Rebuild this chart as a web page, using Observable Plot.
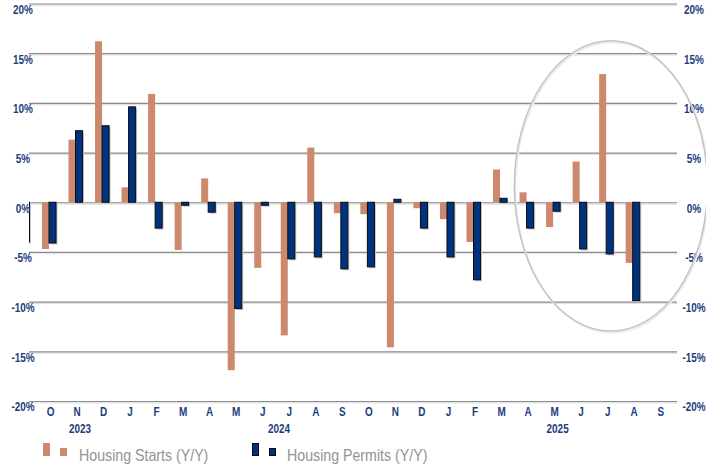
<!DOCTYPE html>
<html>
<head>
<meta charset="utf-8">
<script src="https://cdn.jsdelivr.net/npm/d3@7"></script>
<script src="https://cdn.jsdelivr.net/npm/@observablehq/plot@0.6"></script>
<style>
  html, body { margin: 0; padding: 0; background: #fff; }
  #wrap { width: 706px; }
  .lg { position: relative; width: 706px; height: 27px; font-family: "Liberation Sans", Arial, sans-serif; }
  .sw { position: absolute; box-sizing: border-box; }
  .lt { position: absolute; top: 5px; font-size: 16.5px; line-height: 20px; color: #939393; white-space: nowrap; transform: scaleX(0.86); transform-origin: 0 50%; }
</style>
</head>
<body>
<div id="wrap"></div>
<script>
// Month index: -1 = Sep 2023 ... 23 = Sep 2025
const monthIndex = d3.range(-1, 24);
const monthLetters = ["S","O","N","D","J","F","M","A","M","J","J","A","S","O","N","D","J","F","M","A","M","J","J","A","S"];
const monthYears = [2023,2023,2023,2023,2024,2024,2024,2024,2024,2024,2024,2024,2024,2024,2024,2024,2025,2025,2025,2025,2025,2025,2025,2025,2025];
// Housing Starts Y/Y (%)
const starts = [null,-4.7,6.3,16.2,1.5,10.9,-4.8,2.4,-16.9,-6.6,-13.4,5.5,-1.1,-1.2,-14.6,-0.6,-1.7,-4.0,3.3,1.0,-2.5,4.1,12.9,-6.1,null];
// Housing Permits Y/Y (%)
const permits = [-4.0,-4.1,7.2,7.7,9.6,-2.6,-0.3,-1.0,-10.7,-0.3,-5.7,-5.5,-6.7,-6.5,0.3,-2.6,-5.5,-7.8,0.4,-2.6,-0.9,-4.7,-5.2,-9.9,null];
const yTicks = [-20,-15,-10,-5,0,5,10,15,20];
const yearLabels = [2023, 2024, 2025];
// highlight ellipse (data units: month index, percent)
const highlight = {cx: 21.18, cy: 1.64, rx: 3.64, ry: 14.6};

const rows = monthIndex.map((i, k) => ({i, m: monthLetters[k], yr: monthYears[k], starts: starts[k], permits: permits[k]}));
const visible = rows.filter(r => r.i >= 0);
const years = yearLabels.map(y => ({y, i: d3.mean(visible.filter(r => r.yr === y), r => r.i)}));

const half = 0.265;
const textColor = "#1e3d7d";
const font = '"Liberation Sans", Arial, sans-serif';

const chart = Plot.plot({
  width: 706,
  height: 440,
  marginTop: 3.5,
  marginBottom: 39,
  marginLeft: 29,
  marginRight: 29,
  style: {fontFamily: font, background: "#fff"},
  x: {type: "linear", domain: [-1.5, 23.5], range: [9.2, 672.5], axis: null},
  y: {domain: [-20, 20], axis: null},
  marks: [
    Plot.ruleY(yTicks, {stroke: "#e2e2e2", strokeWidth: 1.2, dy: 1.3}),
    Plot.ruleY(yTicks, {stroke: "#8a8a8a", strokeWidth: 1.2}),
    Plot.rect(rows.filter(r => r.starts != null), {
      x1: r => r.i - half, x2: r => r.i, y1: 0, y2: "starts",
      fill: "#cd896d", clip: true
    }),
    Plot.rect(rows.filter(r => r.permits != null), {
      x1: r => r.i, x2: r => r.i + half, y1: 0, y2: "permits",
      fill: "#c8c8c8", dx: 1.5, dy: 1.5, clip: true
    }),
    Plot.rect(rows.filter(r => r.permits != null), {
      x1: r => r.i, x2: r => r.i + half, y1: 0, y2: "permits",
      fill: "#00337f", stroke: "#0b0b0b", strokeWidth: 1, clip: true
    }),
    Plot.text(yTicks, {
      y: d => d, text: d => `${d}%`, frameAnchor: "left", dx: -6.5, dy: 6,
      textAnchor: "middle", fill: textColor, fontWeight: "bold", fontSize: 12
    }),
    Plot.text(yTicks, {
      y: d => d, text: d => `${d}%`, frameAnchor: "right", dx: 16.5, dy: 6,
      textAnchor: "middle", fill: textColor, fontWeight: "bold", fontSize: 12
    }),
    Plot.text(visible, {
      x: "i", text: "m", frameAnchor: "bottom", dy: 14, dx: 1,
      fill: textColor, fontWeight: "bold", fontSize: 12
    }),
    Plot.text(years, {
      x: "i", text: d => String(d.y), frameAnchor: "bottom", dy: 31.5, dx: 4,
      fill: textColor, fontWeight: "bold", fontSize: 12
    })
  ]
});

// condense the bold labels horizontally (narrow face of the original)
d3.select(chart).selectAll("text").each(function() {
  const t = this.getAttribute("transform");
  if (t) this.setAttribute("transform", t + " scale(0.83,1)");
  else {
    const x = +this.getAttribute("x") || 0, y = +this.getAttribute("y") || 0;
    this.removeAttribute("x"); this.removeAttribute("y");
    this.setAttribute("transform", `translate(${x},${y}) scale(0.83,1)`);
  }
});

// highlight ellipse drawn through the scales
const xs = chart.scale("x"), ys = chart.scale("y");
const ecx = xs.apply(highlight.cx), ecy = ys.apply(highlight.cy);
const erx = xs.apply(highlight.cx + highlight.rx) - ecx;
const ery = ecy - ys.apply(highlight.cy + highlight.ry);
const svg = d3.select(chart);
svg.append("ellipse").attr("cx", ecx + 1).attr("cy", ecy + 1.5).attr("rx", erx).attr("ry", ery)
  .attr("fill", "none").attr("stroke", "#ececec").attr("stroke-width", 2);
svg.append("ellipse").attr("cx", ecx).attr("cy", ecy).attr("rx", erx).attr("ry", ery)
  .attr("fill", "none").attr("stroke", "#c4c4c4").attr("stroke-width", 1.5);

const wrap = document.getElementById("wrap");
wrap.appendChild(chart);

// legend
const series = [
  {name: "Housing Starts (Y/Y)", fill: "#cd896d", stroke: null, x: 43, tx: 79},
  {name: "Housing Permits (Y/Y)", fill: "#00337f", stroke: "#0b0b0b", x: 251.5, tx: 287}
];
const lg = document.createElement("div");
lg.className = "lg";
for (const s of series) {
  const a = document.createElement("div");
  a.className = "sw";
  Object.assign(a.style, {left: s.x + "px", top: "3px", width: "7px", height: "13px", background: s.fill, border: s.stroke ? `1px solid ${s.stroke}` : "none"});
  const b = document.createElement("div");
  b.className = "sw";
  Object.assign(b.style, {left: (s.x + 17) + "px", top: "8px", width: "7px", height: "8px", background: s.fill, border: s.stroke ? `1px solid ${s.stroke}` : "none"});
  const t = document.createElement("div");
  t.className = "lt";
  t.style.left = s.tx + "px";
  t.textContent = s.name;
  lg.append(a, b, t);
}
wrap.appendChild(lg);
</script>
</body>
</html>
